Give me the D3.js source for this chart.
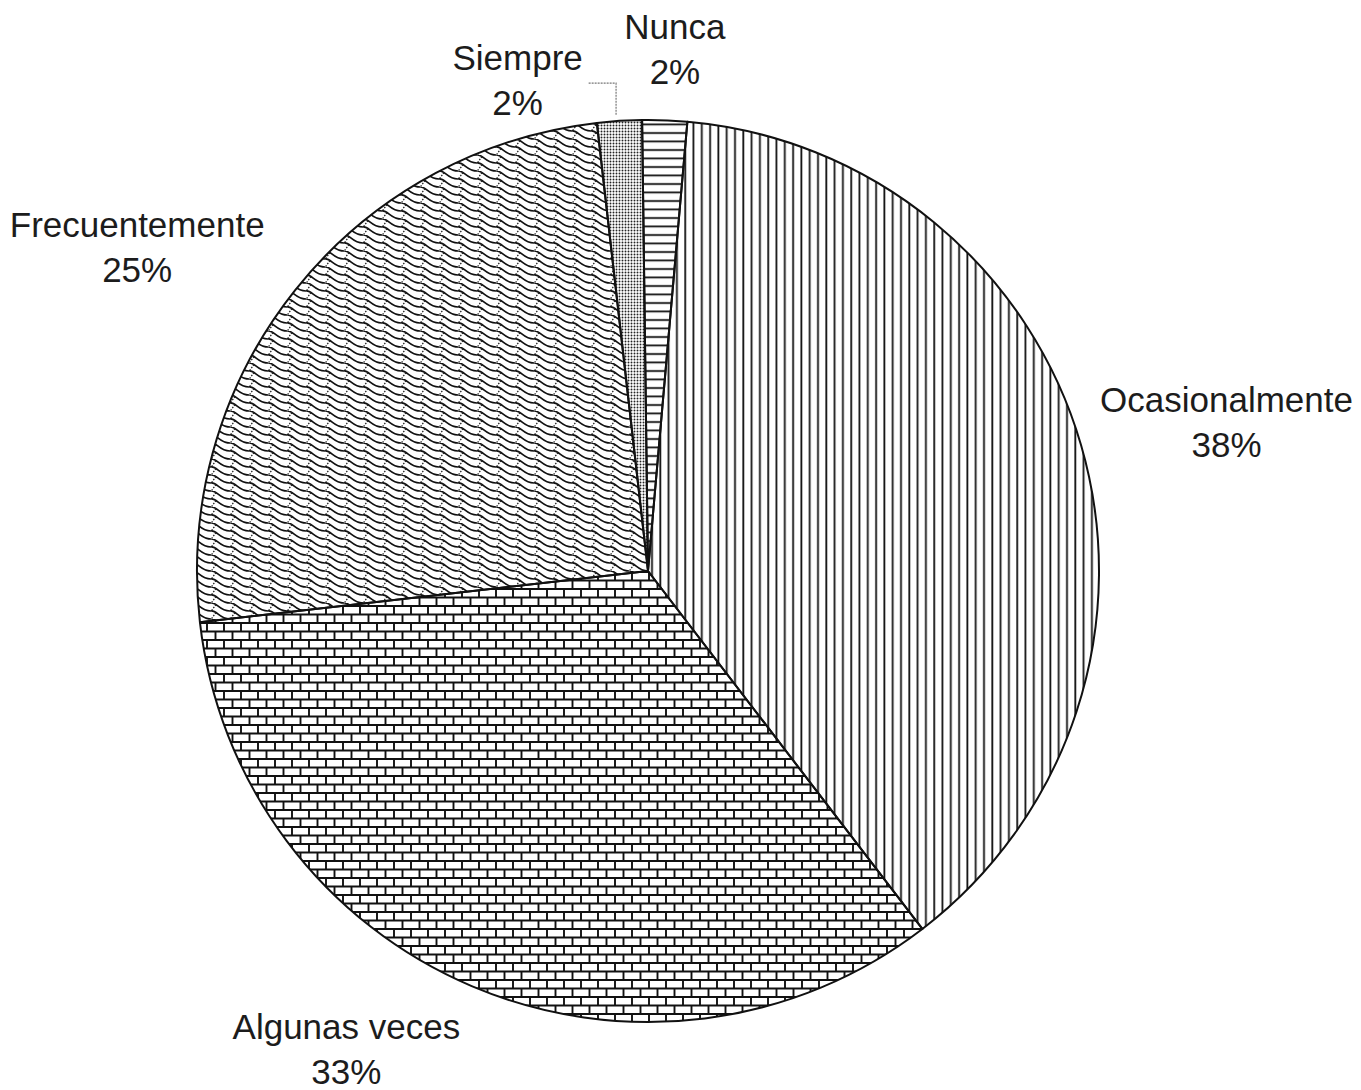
<!DOCTYPE html>
<html>
<head>
<meta charset="utf-8">
<script src="https://cdn.jsdelivr.net/npm/d3@7"></script>
<style>
  body { margin: 0; background: #fff; }
  #chart text { font-family: "Liberation Sans", Arial, sans-serif; font-size: 35px; fill: #1c1c1c; }
</style>
</head>
<body>
<div id="chart"></div>
<script>
(function () {

    // categories and share of answers (%), clockwise from the top
    var categories = ["Nunca", "Ocasionalmente", "Algunas veces", "Frecuentemente", "Siempre"];
    var values = [1.6, 38.2, 33.6, 25.0, 1.6];
    var labels = ["2%", "38%", "33%", "25%", "2%"];

    // fill pattern for each slice
    var patterns = ["p-horiz", "p-vert", "p-brick", "p-scale", "p-dots"];

    // label placement: nudge away from the slice mid point (layout only)
    var labelNudge = [[5, 70], [12, 18], [-71, -63], [-49, 45], [-93, 100]];

    var width = 1361;
    var height = 1090;
    var cx = 648, cy = 571;
    var radius = 451;
    var labelRadius = 590;
    var startDeg = -0.75;

    var svg = d3.select("#chart")
        .append("svg")
        .attr("width", width)
        .attr("height", height);

    svg.append("rect")
        .attr("width", width)
        .attr("height", height)
        .attr("fill", "#fff");

    var defs = svg.append("defs");

    // horizontal lines
    var ph = defs.append("pattern").attr("id", "p-horiz")
        .attr("patternUnits", "userSpaceOnUse")
        .attr("width", 10).attr("height", 8.5);
    ph.append("line").attr("x1", 0).attr("x2", 10).attr("y1", 4).attr("y2", 4)
        .attr("stroke", "#111").attr("stroke-width", 1.8);

    // vertical lines
    var pv = defs.append("pattern").attr("id", "p-vert")
        .attr("patternUnits", "userSpaceOnUse")
        .attr("width", 8.3).attr("height", 10);
    pv.append("line").attr("x1", 4).attr("x2", 4).attr("y1", 0).attr("y2", 10)
        .attr("stroke", "#111").attr("stroke-width", 1.8);

    // bricks
    var pb = defs.append("pattern").attr("id", "p-brick")
        .attr("patternUnits", "userSpaceOnUse")
        .attr("width", 17).attr("height", 17);
    pb.append("path")
        .attr("d", "M0,1H17M0,9.5H17M1,1V9.5M9.5,9.5V18")
        .attr("fill", "none")
        .attr("stroke", "#111").attr("stroke-width", 1.9);

    // fish scales along a diagonal, with dotted cross lines
    var ps = defs.append("pattern").attr("id", "p-scale")
        .attr("patternUnits", "userSpaceOnUse")
        .attr("width", 19).attr("height", 16);
    [-8, 0, 8].forEach(function (o) {
        ps.append("path")
            .attr("d", "M0," + o + " C6," + (o - 1) + " 8," + (o + 8) + " 19," + (o + 8))
            .attr("fill", "none")
            .attr("stroke", "#111").attr("stroke-width", 1.7);
        ps.append("path")
            .attr("d", "M5," + (o + 1.5) + " L0," + (o + 8.5))
            .attr("fill", "none")
            .attr("stroke", "#222").attr("stroke-width", 1.3)
            .attr("stroke-dasharray", "1.6,1.4");
    });

    // stipple dots
    var pd = defs.append("pattern").attr("id", "p-dots")
        .attr("patternUnits", "userSpaceOnUse")
        .attr("width", 3).attr("height", 3);
    pd.append("circle").attr("cx", 1.5).attr("cy", 1.5).attr("r", 0.95)
        .attr("fill", "#222");

    var toRad = Math.PI / 180;

    var pie = d3.pie()
        .sort(null)
        .value(function (d) { return d; })
        .startAngle(startDeg * toRad)
        .endAngle(startDeg * toRad + 2 * Math.PI);

    var arc = d3.arc()
        .innerRadius(0)
        .outerRadius(radius);

    var arcs = pie(values);

    var g = svg.append("g")
        .attr("transform", "translate(" + cx + "," + cy + ")");

    g.selectAll(".slice")
        .data(arcs)
        .enter()
        .append("path")
        .attr("class", "slice")
        .attr("d", arc)
        .attr("fill", function (d, i) { return "url(#" + patterns[i] + ")"; })
        .attr("stroke", "#111")
        .attr("stroke-width", 2)
        .attr("stroke-linejoin", "round");

    // label anchors
    var pos = arcs.map(function (d, i) {
        var a = (d.startAngle + d.endAngle) / 2;
        return {
            x: cx + labelRadius * Math.sin(a) + labelNudge[i][0],
            y: cy - labelRadius * Math.cos(a) + labelNudge[i][1],
            a: a
        };
    });

    var lab = svg.selectAll(".label")
        .data(pos)
        .enter()
        .append("text")
        .attr("class", "label")
        .attr("text-anchor", "middle");

    lab.append("tspan")
        .attr("x", function (d) { return d.x; })
        .attr("y", function (d) { return d.y - 12; })
        .text(function (d, i) { return categories[i]; });

    lab.append("tspan")
        .attr("x", function (d) { return d.x; })
        .attr("y", function (d) { return d.y + 33; })
        .text(function (d, i) { return labels[i]; });

    // leader line for the small "Siempre" slice
    var s = pos[4];
    var ex = cx + (radius + 6) * Math.sin(s.a);
    var ey = cy - (radius + 6) * Math.cos(s.a);
    svg.append("path")
        .attr("d", "M" + (s.x + 71) + "," + (s.y + 1) + "H" + (ex - 3) + "V" + ey)
        .attr("fill", "none")
        .attr("stroke", "#777")
        .attr("stroke-width", 1.2)
        .attr("stroke-dasharray", "2,1");

})();
</script>
</body>
</html>
